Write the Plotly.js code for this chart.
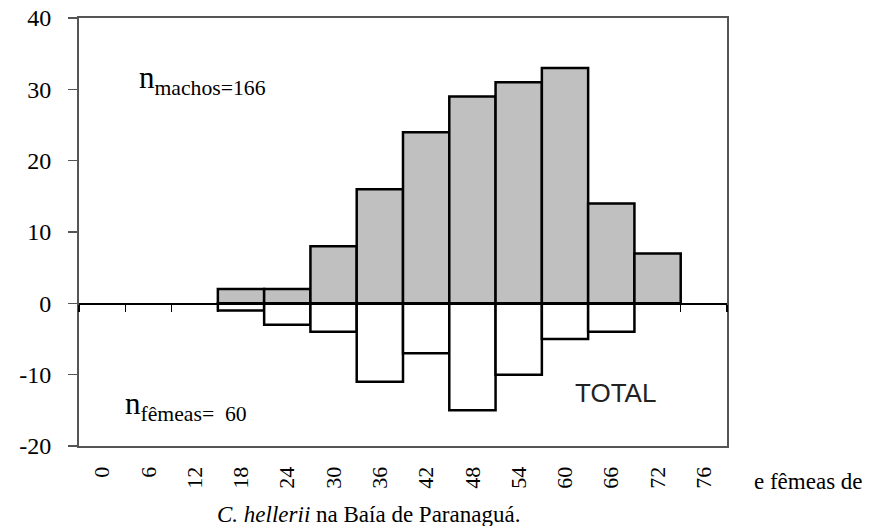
<!DOCTYPE html>
<html>
<head>
<meta charset="utf-8">
<script src="https://cdn.plot.ly/plotly-3.0.1.min.js"></script>
<style>
  html, body { margin: 0; padding: 0; background: #fff; }
  #chart { width: 869px; height: 526px; }
</style>
</head>
<body>
<div id="chart"></div>
<script>
// Size classes (mm)
const categories = ["0", "6", "12", "18", "24", "30", "36", "42", "48", "54", "60", "66", "72", "76"];
// Males (positive) and females (negative) counts per size class
const machos  = [null, null, null, 2, 2, 8, 16, 24, 29, 31, 33, 14, 7, null];
const femeas  = [null, null, null, -1, -3, -4, -11, -7, -15, -10, -5, -4, null, null];
// Y axis ticks
const yTickVals = [-20, -10, 0, 10, 20, 30, 40];
const yTickText = ["-20", "-10", "0", "10", "20", "30", "40"];

const serif = "Liberation Serif, serif";
const sans = "Liberation Sans, sans-serif";

const traces = [
  {
    type: "bar", x: categories, y: machos, name: "machos",
    marker: { color: "#c0c0c0", line: { color: "#000", width: 2.5 } },
    hoverinfo: "skip"
  },
  {
    type: "bar", x: categories, y: femeas, name: "fêmeas",
    marker: { color: "#ffffff", line: { color: "#000", width: 2.5 } },
    hoverinfo: "skip"
  },
  {
    type: "scatter", x: categories, y: machos, xaxis: "x2", yaxis: "y",
    mode: "none", showlegend: false, hoverinfo: "skip"
  }
];

const layout = {
  width: 869, height: 526,
  margin: { l: 79, r: 142, t: 18, b: 80 },
  paper_bgcolor: "#fff", plot_bgcolor: "#fff",
  showlegend: false,
  barmode: "relative",
  bargap: 0,
  font: { family: serif, color: "#000" },
  xaxis: {
    type: "category",
    categoryorder: "array", categoryarray: categories,
    range: [-0.5, 13.5],
    showline: true, linecolor: "#555", linewidth: 2, mirror: true,
    ticks: "", tickangle: -90,
    ticklabelstandoff: 10,
    tickfont: { family: serif, size: 22, color: "#000" },
    showgrid: false, zeroline: false
  },
  xaxis2: {
    type: "category", overlaying: "x",
    categoryorder: "array", categoryarray: categories,
    range: [-0.5, 13.5],
    anchor: "free", position: 1 / 3, side: "bottom",
    showline: true, linecolor: "#000", linewidth: 1.2,
    ticks: "outside", tickson: "boundaries", ticklen: 7, tickwidth: 1.3, tickcolor: "#000",
    showticklabels: false, showgrid: false, zeroline: false
  },
  yaxis: {
    range: [-20, 40],
    tickvals: yTickVals, ticktext: yTickText,
    showline: true, linecolor: "#555", linewidth: 2, mirror: true,
    ticks: "outside", ticklen: 9, tickwidth: 1.5, tickcolor: "#555",
    ticklabelstandoff: 12,
    tickfont: { family: serif, size: 24, color: "#000" },
    showgrid: false, zeroline: false
  },
  annotations: [
    {
      xref: "paper", yref: "paper", x: 0.0895, y: 0.855,
      xanchor: "left", yanchor: "middle", showarrow: false,
      text: "n<sub>machos=166</sub>",
      font: { family: serif, size: 31, color: "#000" }
    },
    {
      xref: "paper", yref: "paper", x: 0.068, y: 0.093,
      xanchor: "left", yanchor: "middle", showarrow: false,
      text: "n<sub>fêmeas=&nbsp; 60</sub>",
      font: { family: serif, size: 31, color: "#000" }
    },
    {
      xref: "paper", yref: "paper", x: 0.828, y: 0.124,
      xanchor: "center", yanchor: "middle", showarrow: false,
      text: "TOTAL",
      font: { family: sans, size: 26, color: "#222" }
    },
    {
      xref: "paper", yref: "paper", x: 1.0386, y: -0.084,
      xanchor: "left", yanchor: "middle", showarrow: false,
      text: "e fêmeas de",
      font: { family: serif, size: 23, color: "#000" }
    },
    {
      xref: "paper", yref: "paper", x: 0.21, y: -0.159,
      xanchor: "left", yanchor: "middle", showarrow: false,
      text: "<i>C. hellerii</i> na Baía de Paranaguá.",
      font: { family: serif, size: 23, color: "#000" }
    }
  ]
};

Plotly.newPlot("chart", traces, layout, { displayModeBar: false, staticPlot: true });
</script>
</body>
</html>
